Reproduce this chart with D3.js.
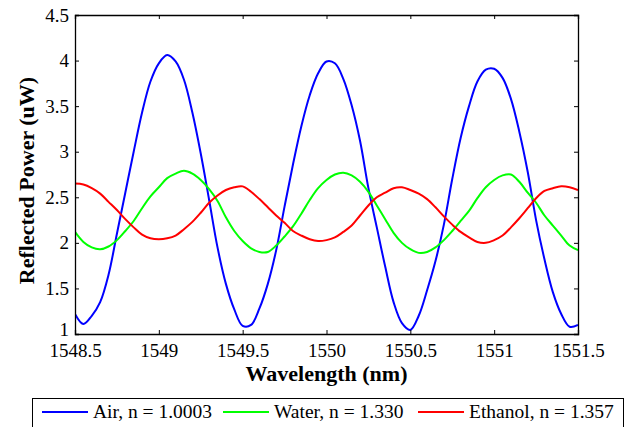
<!DOCTYPE html>
<html>
<head>
<meta charset="utf-8">
<script src="https://cdn.jsdelivr.net/npm/d3@7"></script>
<style>
  html, body { margin: 0; padding: 0; background: #fff; }
  svg { display: block; }
</style>
</head>
<body>
<svg id="chart" width="629" height="427"></svg>
<script>
// ---- Data ----
const wavelengths = d3.range(61).map(i => +(1548.5 + i * 0.05).toFixed(2));

const airValues = [
  1.22, 1.11, 1.20, 1.35, 1.65, 2.10, 2.55, 3.00, 3.43, 3.77,
  3.97, 4.06, 3.99, 3.79, 3.43, 2.98, 2.47, 1.95, 1.55, 1.27,
  1.09, 1.10, 1.28, 1.55, 1.92, 2.40, 2.86, 3.28, 3.62, 3.86,
  3.99, 3.97, 3.80, 3.51, 3.12, 2.60, 2.17, 1.74, 1.35, 1.12,
  1.045, 1.20, 1.48, 1.80, 2.20, 2.70, 3.15, 3.50, 3.77, 3.90,
  3.91, 3.81, 3.58, 3.22, 2.78, 2.25, 1.82, 1.46, 1.22, 1.08,
  1.10
];

const waterValues = [
  2.12, 2.01, 1.95, 1.93, 1.96, 2.03, 2.13, 2.24, 2.38, 2.51,
  2.61, 2.71, 2.76, 2.79, 2.76, 2.69, 2.59, 2.46, 2.28, 2.13,
  2.02, 1.94, 1.90, 1.90, 1.97, 2.07, 2.18, 2.32, 2.47, 2.60,
  2.69, 2.75, 2.77, 2.74, 2.67, 2.56, 2.41, 2.26, 2.11, 2.00,
  1.93, 1.89, 1.90, 1.95, 2.03, 2.13, 2.24, 2.35, 2.49, 2.61,
  2.69, 2.74, 2.75, 2.67, 2.55, 2.44, 2.30, 2.19, 2.08, 1.97,
  1.92
];

const ethanolValues = [
  2.65, 2.64, 2.60, 2.54, 2.45, 2.36, 2.26, 2.17, 2.09, 2.05,
  2.04, 2.05, 2.08, 2.15, 2.23, 2.33, 2.44, 2.52, 2.58, 2.61,
  2.62, 2.56, 2.48, 2.39, 2.30, 2.22, 2.13, 2.08, 2.04, 2.02,
  2.03, 2.06, 2.12, 2.19, 2.30, 2.41, 2.50, 2.55, 2.60, 2.61,
  2.58, 2.54, 2.48, 2.39, 2.29, 2.20, 2.12, 2.06, 2.01, 2.00,
  2.03, 2.08, 2.17, 2.27, 2.38, 2.49, 2.57, 2.60, 2.62, 2.61,
  2.58
];

const seriesNames = ["Air, n = 1.0003", "Water, n = 1.330", "Ethanol, n = 1.357"];
const seriesColors = ["#0000ff", "#00ff00", "#ff0000"];
const xTicks = [1548.5, 1549, 1549.5, 1550, 1550.5, 1551, 1551.5];
const yTicks = [1, 1.5, 2, 2.5, 3, 3.5, 4, 4.5];
const xLabel = "Wavelength (nm)";
const yLabel = "Reflected Power (uW)";

// ---- Layout ----
const FONT = "Liberation Serif";
const svg = d3.select("#chart");
const plot = { left: 75, right: 578, top: 15, bottom: 334 };

const x = d3.scaleLinear().domain([1548.5, 1551.5]).range([plot.left, plot.right]);
const y = d3.scaleLinear().domain([1, 4.5]).range([plot.bottom, plot.top]);

const series = [airValues, waterValues, ethanolValues];

svg.append("defs").append("clipPath").attr("id", "clip")
  .append("rect").attr("x", plot.left).attr("y", plot.top)
  .attr("width", plot.right - plot.left).attr("height", plot.bottom - plot.top);

const line = d3.line()
  .x((d, i) => x(wavelengths[i]))
  .y(d => y(d))
  .curve(d3.curveCatmullRom.alpha(0.5));

const lg = svg.append("g").attr("clip-path", "url(#clip)");
series.forEach((vals, k) => {
  lg.append("path")
    .datum(vals)
    .attr("fill", "none")
    .attr("stroke", seriesColors[k])
    .attr("stroke-width", 2)
    .attr("stroke-linejoin", "round")
    .attr("d", line);
});

const tickLen = 4;
const axB = svg.append("g").attr("transform", `translate(0,${plot.bottom})`)
  .call(d3.axisBottom(x).tickValues(xTicks).tickSize(-tickLen).tickPadding(10)
    .tickFormat(d3.format("")));
const axT = svg.append("g").attr("transform", `translate(0,${plot.top})`)
  .call(d3.axisTop(x).tickValues(xTicks).tickSize(-tickLen).tickFormat(""));
const axL = svg.append("g").attr("transform", `translate(${plot.left},0)`)
  .call(d3.axisLeft(y).tickValues(yTicks).tickSize(-tickLen).tickPadding(6)
    .tickFormat(d3.format("")));
const axR = svg.append("g").attr("transform", `translate(${plot.right},0)`)
  .call(d3.axisRight(y).tickValues(yTicks).tickSize(-tickLen).tickFormat(""));

[axB, axT, axL, axR].forEach(a => {
  a.attr("font-family", FONT).attr("font-size", 19);
  a.select(".domain").attr("stroke", "#000").attr("stroke-width", 1.3);
  a.selectAll(".tick line").attr("stroke", "#000");
  a.selectAll("text").attr("fill", "#000");
});
axB.selectAll("text").attr("dy", "0.71em");
// lift the lowest y label slightly so it clears the first x label
axL.selectAll(".tick text").filter(d => d === 1).attr("dy", "0.1em");

svg.append("text")
  .attr("x", (plot.left + plot.right) / 2)
  .attr("y", 381)
  .attr("text-anchor", "middle")
  .attr("font-family", FONT)
  .attr("font-size", 22)
  .attr("font-weight", "bold")
  .text(xLabel);

svg.append("text")
  .attr("transform", `translate(34,${(plot.top + plot.bottom) / 2 + 6}) rotate(-90)`)
  .attr("text-anchor", "middle")
  .attr("font-family", FONT)
  .attr("font-size", 22)
  .attr("font-weight", "bold")
  .text(yLabel);

const legend = svg.append("g");
legend.append("rect")
  .attr("x", 32.5).attr("y", 398.5)
  .attr("width", 591).attr("height", 40)
  .attr("fill", "#fff").attr("stroke", "#000").attr("stroke-width", 1);

const legendLineX = [42, 223, 418];
const ly = 412;
seriesNames.forEach((name, k) => {
  legend.append("line")
    .attr("x1", legendLineX[k]).attr("x2", legendLineX[k] + 46)
    .attr("y1", ly).attr("y2", ly)
    .attr("stroke", seriesColors[k]).attr("stroke-width", 2);
  legend.append("text")
    .attr("x", legendLineX[k] + 51).attr("y", ly + 6)
    .attr("font-family", FONT)
    .attr("font-size", 19.5)
    .attr("fill", "#000")
    .text(name);
});
</script>
</body>
</html>
